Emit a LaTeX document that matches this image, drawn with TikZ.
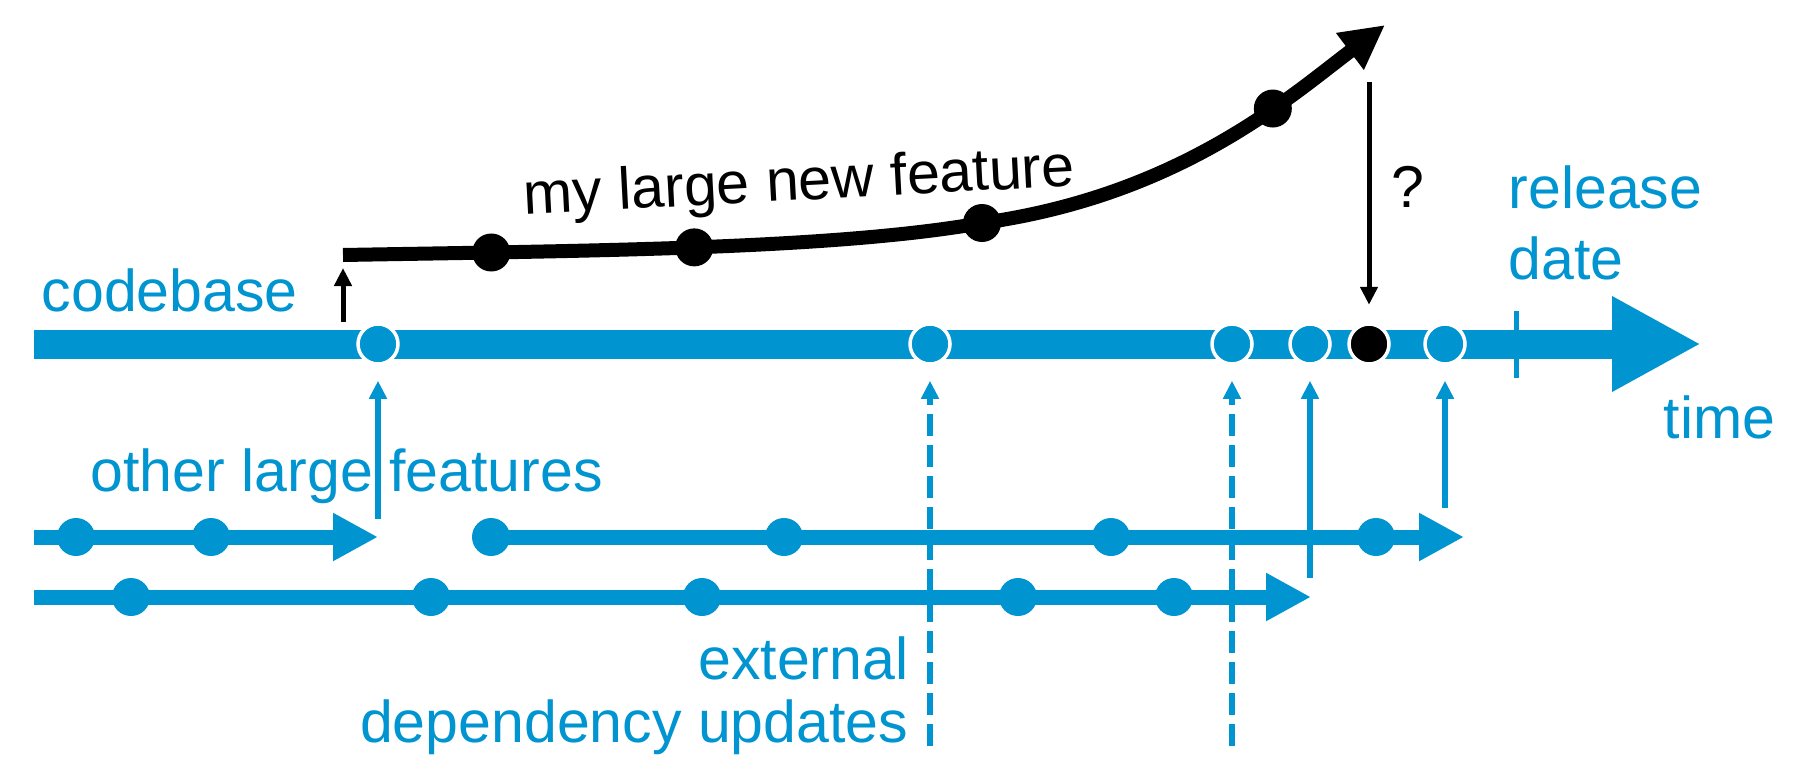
\documentclass[tikz,border=0pt]{standalone}
\usepackage{fontspec}
\setmainfont{Liberation Sans}
\usetikzlibrary{positioning,arrows.meta}
\definecolor{cb-blue}{HTML}{0094D0}

\begin{document}
\begin{tikzpicture}[
    font=\fontsize{16.8pt}{20pt}\selectfont,
    >={Triangle[length=0.18cm,width=0.17cm]}
  ]

  % Global Style Definitions
  \tikzset{
    trunk/.style={cb-blue, line width=0.29cm, -{Triangle[length=0.89cm,width=0.89cm]}},
    track/.style={cb-blue, line width=0.15cm, -{Triangle[length=0.45cm,width=0.45cm]}},
    merge/.style={cb-blue, line width=0.06cm, ->, shorten >=0.15cm},
    update/.style={merge, dash pattern=on 0.22cm off 0.09cm},
    feature/.style={black, line width=0.14cm, -{Triangle[length=0.44cm,width=0.43cm]}},
    nudge/.style={black, line width=0.05cm, ->},
    commit/.style={circle, fill=cb-blue, draw=white, line width=0.035cm, minimum size=0.40cm, inner sep=0pt},
    work/.style={circle, fill=cb-blue, minimum size=0.38cm, inner sep=0pt},
    mine/.style={circle, fill=black, minimum size=0.38cm, inner sep=0pt},
    tag/.style={text=cb-blue, inner sep=0pt}
  }

  \useasboundingbox (0,0) rectangle (18.05,7.73);

  % Codebase time line
  \coordinate (cb0) at (0.34,4.29);
  \coordinate (cb1) at (17.01,4.29);
  \draw[trunk] (cb0) -- (cb1);
  \coordinate (rd0) at (15.16,4.62);
  \coordinate (rd1) at (15.16,3.95);
  \draw[cb-blue, line width=0.05cm] (rd0) -- (rd1);

  % Merges into the codebase
  \node (c1) [commit] at (3.78,4.29) {};
  \node (c2) [commit] at (9.30,4.29) {};
  \node (c3) [commit] at (12.32,4.29) {};
  \node (c4) [commit] at (13.10,4.29) {};
  \node (c5) [commit, fill=black] at (13.69,4.29) {};
  \node (c6) [commit] at (14.45,4.29) {};

  % Other large features
  \coordinate (a0) at (0.34,2.36);
  \coordinate (a1) at (3.78,2.36);
  \coordinate (a2) at (4.91,2.36);
  \coordinate (a3) at (14.64,2.36);
  \coordinate (b0) at (0.34,1.76);
  \coordinate (b1) at (13.11,1.76);
  \draw[track] (a0) -- (a1);
  \draw[track] (a2) -- (a3);
  \draw[track] (b0) -- (b1);
  \node (w1) [work] at (0.76,2.36) {};
  \node (w2) [work] at (2.11,2.36) {};
  \node (w3) [work] at (a2) {};
  \node (w4) [work] at (7.84,2.36) {};
  \node (w5) [work] at (11.11,2.36) {};
  \node (w6) [work] at (13.76,2.36) {};
  \node (v1) [work] at (1.31,1.76) {};
  \node (v2) [work] at (4.31,1.76) {};
  \node (v3) [work] at (7.02,1.76) {};
  \node (v4) [work] at (10.18,1.76) {};
  \node (v5) [work] at (11.74,1.76) {};

  % Feeds up to the codebase
  \coordinate (f1) at (3.78,2.54);
  \coordinate (f2) at (9.30,0.27);
  \coordinate (f3) at (12.32,0.27);
  \coordinate (f4) at (13.10,1.95);
  \coordinate (f6) at (14.45,2.65);
  \draw[merge] (f1) -- (c1);
  \draw[update] (f2) -- (c2);
  \draw[update] (f3) -- (c3);
  \draw[merge] (f4) -- (c4);
  \draw[merge] (f6) -- (c6);

  % My large new feature
  \coordinate (p0) at (3.43,5.18);
  \coordinate (p3) at (9.82,5.50);
  \coordinate (p5) at (13.85,7.48);
  \draw[feature] (p0) .. controls +(1:2.5) and +(190:1.5) .. (p3)
    node[mine, pos=0.2] (m1) {} node[mine, pos=0.49] (m2) {}
    .. controls +(8:2.0) and +(217:1.2) .. (p5)
    node[mine, pos=0.64] (m4) {};
  \node (m3) [mine] at (p3) {};
  \coordinate (s0) at (3.43,4.51);
  \draw[nudge, shorten >=0.13cm] (s0) -- (p0);
  \coordinate (q0) at (13.69,6.91);
  \draw[nudge, shorten >=0.175cm] (q0) -- (c5);

  % Labels
  \node (codebase) [tag, anchor=base west] at (0.41,4.62) {codebase};
  \node (others) [tag, anchor=base west] at (0.90,2.82) {other large features};
  \node (external) [tag, anchor=base east, align=right, font=\fontsize{16.8pt}{17.9pt}\selectfont] at (9.09,0.305) {external\\dependency updates};
  \node (release) [tag, anchor=base west, align=left, font=\fontsize{16.8pt}{20.2pt}\selectfont] at (15.08,4.94) {release\\date};
  \node (time) [tag, anchor=base west] at (16.63,3.35) {time};
  \node (question) [anchor=base west, inner sep=0pt] at (13.91,5.66) {?};
  \node (mylabel) [anchor=base, rotate=3, inner sep=0pt] at (8.00,5.73) {my large new feature};

\end{tikzpicture}
\end{document}
